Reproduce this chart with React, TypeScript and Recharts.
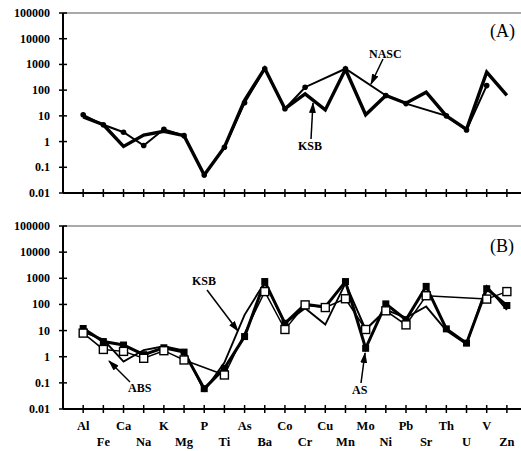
import React from "react";
import { LineChart, Line, XAxis, YAxis, ReferenceLine } from "recharts";

const ELEMENTS = ["Al", "Fe", "Ca", "Na", "K", "Mg", "P", "Ti", "As", "Ba", "Co", "Cr", "Cu", "Mn", "Mo", "Ni", "Pb", "Sr", "Th", "U", "V", "Zn"];

// panel A
const KSB = [9, 4.5, 0.65, 1.8, 2.5, 1.7, 0.05, 0.6, 40, 700, 19, 72, 17, 650, 11, 62, 31, 83, 10, 3, 500, 62];
const NASC = [11, 4.5, 2.3, 0.7, 3, 1.7, 0.05, 0.6, 32, 680, 19, 130, null, 680, null, 62, 30, null, 10, 2.8, 150, null];

// panel B
const ABS = [8, 1.9, 1.6, 0.87, 1.7, 0.75, null, 0.2, null, 310, 11, 96, 76, 165, 11, 57, 16.5, 215, null, null, 160, 310];
const AS = [12, 3.8, 2.8, 1.2, 2.2, 1.5, 0.06, 0.36, 5.9, 750, 19, 100, 80, 750, 2.1, 105, 26, 490, 11.6, 3.3, 400, 91];

const Y_TICKS = [0.01, 0.1, 1, 10, 100, 1000, 10000, 100000];
const X_TICKS = ELEMENTS.map((_, i) => i);

const FONT = '"Liberation Serif", "DejaVu Serif", serif';

const rows = ELEMENTS.map((el, i) => ({
  i,
  el,
  ksb: KSB[i],
  nasc: NASC[i],
  abs: ABS[i],
  as: AS[i],
}));

const XTick = (p: any) => {
  const { x, y, payload, showLabels } = p;
  const i = payload.value;
  return (
    <g>
      <line x1={x} x2={x} y1={y - 4} y2={y + 4} stroke="#000" strokeWidth={1.5} />
      {showLabels && (
        <text
          x={x}
          y={y + (i % 2 ? 37 : 21)}
          textAnchor="middle"
          fontFamily={FONT}
          fontWeight="bold"
          fontSize={12.5}
          fill="#000"
        >
          {ELEMENTS[i]}
        </text>
      )}
    </g>
  );
};

const YTick = (p: any) => {
  const { x, y, payload } = p;
  return (
    <g>
      <line x1={x - 4} x2={x + 4} y1={y} y2={y} stroke="#000" strokeWidth={1.5} />
      <text x={x - 13} y={y + 4} textAnchor="end" fontFamily={FONT} fontWeight="bold" fontSize={12} fill="#000">
        {String(payload.value)}
      </text>
    </g>
  );
};

const FilledSquare = (p: any) => {
  const { cx, cy, index } = p;
  if (cx == null || cy == null) return <g key={`fs${index}`} />;
  return <rect key={`fs${index}`} x={cx - 3.5} y={cy - 3.5} width={7} height={7} fill="#000" />;
};

const OpenSquare = (p: any) => {
  const { cx, cy, index } = p;
  if (cx == null || cy == null) return <g key={`os${index}`} />;
  return <rect key={`os${index}`} x={cx - 4} y={cy - 4} width={8} height={8} fill="#fff" stroke="#000" strokeWidth={1.4} />;
};

const SmallDot = (p: any) => {
  const { cx, cy, index } = p;
  if (cx == null || cy == null) return <g key={`sd${index}`} />;
  return <circle key={`sd${index}`} cx={cx} cy={cy} r={2.8} fill="#000" />;
};

function Panel({ height, bottom, labels, children }: { height: number; bottom: number; labels: boolean; children: React.ReactNode }) {
  return (
    <LineChart width={521} height={height} data={rows} margin={{ top: 13, right: 0, left: 0, bottom: 0 }}>
      <ReferenceLine y={100000} stroke="#555" strokeWidth={1} />
      <XAxis
        dataKey="i"
        type="number"
        domain={[-1, 21.7]}
        ticks={X_TICKS}
        interval={0}
        allowDataOverflow
        height={bottom}
        tickSize={0}
        tickMargin={0}
        tickLine={false}
        axisLine={{ stroke: "#000", strokeWidth: 2 }}
        tick={<XTick showLabels={labels} />}
      />
      <YAxis
        type="number"
        scale="log"
        domain={[0.01, 100000]}
        ticks={Y_TICKS}
        interval={0}
        allowDataOverflow
        width={63}
        tickSize={0}
        tickMargin={0}
        tickLine={false}
        axisLine={{ stroke: "#000", strokeWidth: 2 }}
        tick={<YTick />}
      />
      {children}
    </LineChart>
  );
}

const Label = ({ x, y, children, size = 12, bold = true }: any) => (
  <text x={x} y={y} fontFamily={FONT} fontWeight={bold ? "bold" : "normal"} fontSize={size} fill="#000">
    {children}
  </text>
);

export default function App() {
  return (
    <div style={{ position: "absolute", left: 0, top: 0, width: 521, height: 451, background: "#fff" }}>
      <div style={{ position: "absolute", left: 0, top: 0 }}>
        <Panel height={200} bottom={7} labels={false}>
          <Line dataKey="nasc" stroke="#000" strokeWidth={2} dot={<SmallDot />} connectNulls isAnimationActive={false} />
          <Line dataKey="ksb" stroke="#000" strokeWidth={3.4} dot={false} isAnimationActive={false} />
        </Panel>
      </div>
      <div style={{ position: "absolute", left: 0, top: 213 }}>
        <Panel height={238} bottom={42} labels={true}>
          <Line dataKey="ksb" stroke="#000" strokeWidth={1.9} dot={false} isAnimationActive={false} />
          <Line dataKey="as" stroke="#000" strokeWidth={3} dot={<FilledSquare />} isAnimationActive={false} />
          <Line dataKey="abs" stroke="#000" strokeWidth={1.5} dot={<OpenSquare />} connectNulls isAnimationActive={false} />
        </Panel>
      </div>
      <svg width={521} height={451} style={{ position: "absolute", left: 0, top: 0, pointerEvents: "none" }}>
        <defs>
          <marker id="ah" markerWidth="11" markerHeight="7" refX="10" refY="3.5" orient="auto" markerUnits="userSpaceOnUse">
            <path d="M0,0 L11,3.5 L0,7 z" fill="#000" />
          </marker>
        </defs>
        <Label x={490} y={37} size={18} bold={false}>(A)</Label>
        <Label x={490} y={252} size={18} bold={false}>(B)</Label>

        <Label x={369} y={58}>NASC</Label>
        <line x1={383} y1={59} x2={371} y2={84} stroke="#000" strokeWidth={1.5} markerEnd="url(#ah)" />
        <Label x={298} y={150}>KSB</Label>
        <line x1={311} y1={139} x2={313} y2={103} stroke="#000" strokeWidth={1.5} markerEnd="url(#ah)" />

        <Label x={192} y={285}>KSB</Label>
        <line x1={207} y1={290} x2={238} y2={331} stroke="#000" strokeWidth={1.5} markerEnd="url(#ah)" />
        <Label x={128} y={392}>ABS</Label>
        <line x1={130} y1={382} x2={109} y2={361} stroke="#000" strokeWidth={1.5} markerEnd="url(#ah)" />
        <Label x={352} y={394}>AS</Label>
        <line x1={361} y1={383} x2={365} y2={353} stroke="#000" strokeWidth={1.5} markerEnd="url(#ah)" />
      </svg>
    </div>
  );
}
